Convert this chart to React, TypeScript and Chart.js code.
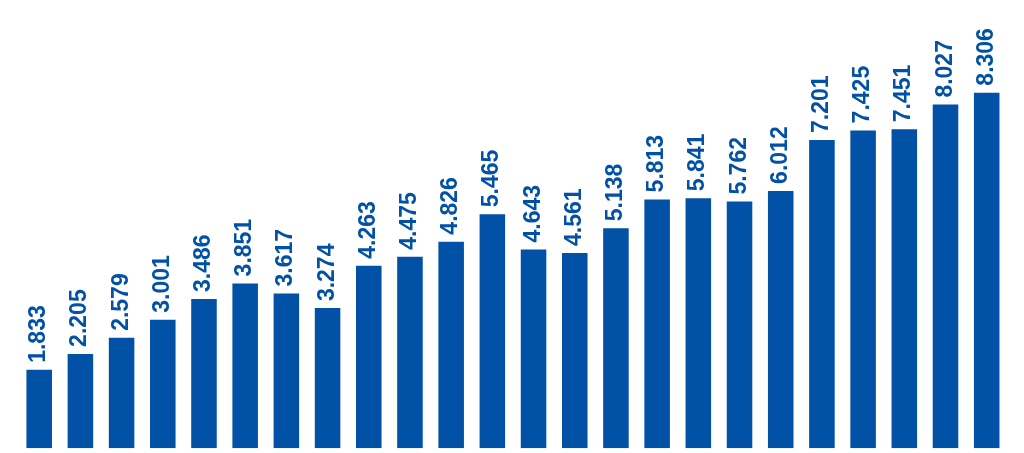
import React, { useEffect, useRef } from 'react';
import Chart from 'chart.js/auto';

const categories = ['1', '2', '3', '4', '5', '6', '7', '8', '9', '10', '11', '12', '13', '14', '15', '16', '17', '18', '19', '20', '21', '22', '23', '24'];
const values = [1.833, 2.205, 2.579, 3.001, 3.486, 3.851, 3.617, 3.274, 4.263, 4.475, 4.826, 5.465, 4.643, 4.561, 5.138, 5.813, 5.841, 5.762, 6.012, 7.201, 7.425, 7.451, 8.027, 8.306];

const BLUE = '#0151a6';

const barLabels = {
  id: 'barLabels',
  afterDatasetsDraw(chart: any) {
    const ctx = chart.ctx;
    const meta = chart.getDatasetMeta(0);
    ctx.save();
    ctx.fillStyle = BLUE;
    ctx.font = 'bold 23px "Liberation Sans", Arial, sans-serif';
    ctx.textAlign = 'left';
    ctx.textBaseline = 'alphabetic';
    meta.data.forEach((bar: any, i: number) => {
      ctx.save();
      ctx.translate(bar.x + 6, bar.y - 7);
      ctx.rotate(-Math.PI / 2);
      ctx.fillText(values[i].toFixed(3), 0, 0);
      ctx.restore();
    });
    ctx.restore();
  },
};

export default function App() {
  const chartRef = useRef<HTMLCanvasElement | null>(null);
  const chartInstanceRef = useRef<Chart | null>(null);

  useEffect(() => {
    if (chartInstanceRef.current) {
      chartInstanceRef.current.destroy();
    }
    if (chartRef.current) {
      chartInstanceRef.current = new Chart(chartRef.current, {
        type: 'bar',
        data: {
          labels: categories,
          datasets: [
            {
              data: values,
              backgroundColor: BLUE,
              borderWidth: 0,
              categoryPercentage: 1,
              barPercentage: 0.62,
            },
          ],
        },
        options: {
          animation: false,
          responsive: true,
          maintainAspectRatio: false,
          layout: { padding: { left: 18.6, right: 16.7, top: 0, bottom: 4.7 } },
          plugins: { legend: { display: false }, tooltip: { enabled: false } },
          scales: {
            x: { display: false },
            y: { display: false, min: 0, max: 10.47 },
          },
        },
        plugins: [barLabels],
      });
    }
    return () => {
      if (chartInstanceRef.current) {
        chartInstanceRef.current.destroy();
      }
    };
  }, []);

  return (
    <div style={{ position: 'absolute', left: 0, top: 0, width: 1024, height: 453, background: '#fff' }}>
      <canvas ref={chartRef} />
    </div>
  );
}
